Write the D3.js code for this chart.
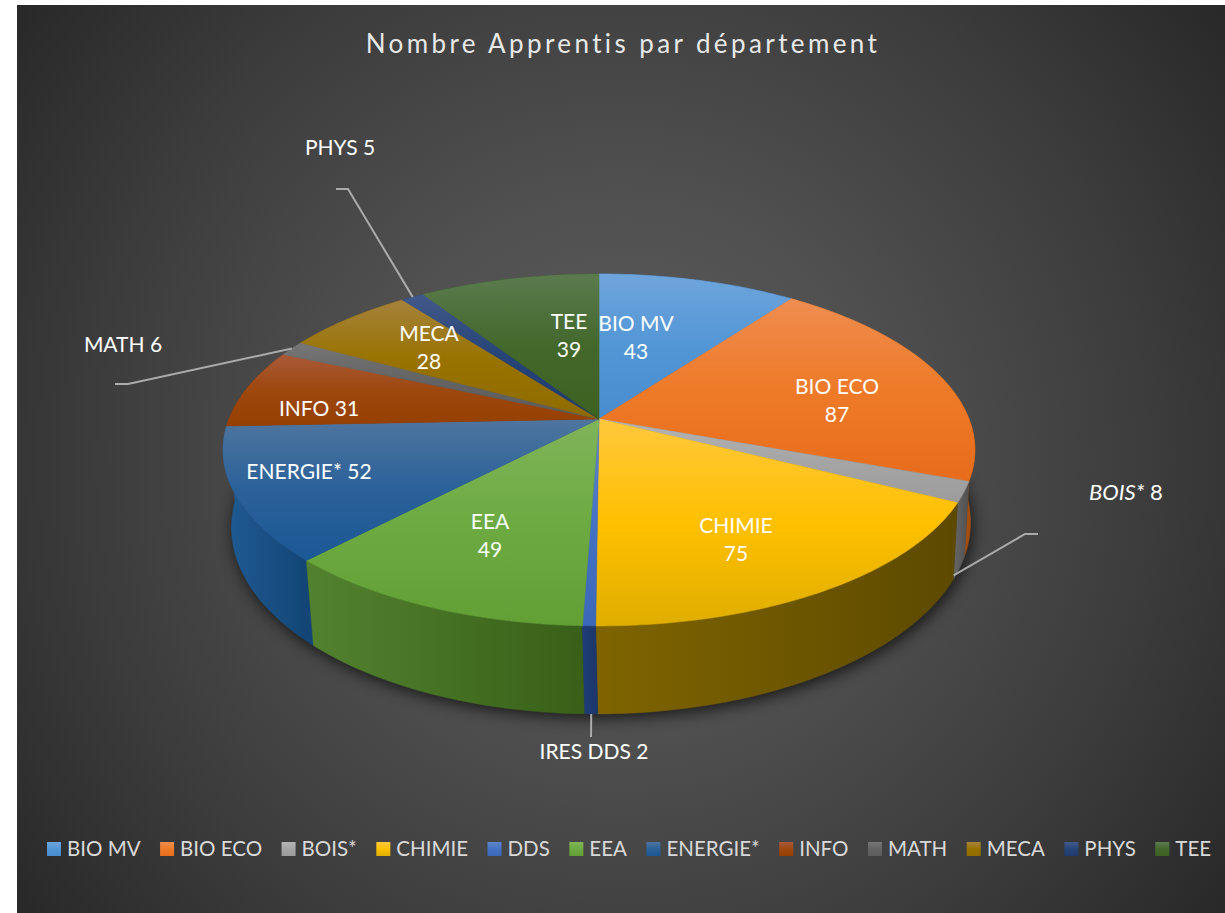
<!DOCTYPE html>
<html><head><meta charset="utf-8">
<script src="https://cdn.jsdelivr.net/npm/d3@7/dist/d3.min.js"></script>
<style>html,body{margin:0;background:#fff}svg{display:block}text{font-family:Lato,"Noto Sans",sans-serif}</style>
</head><body><svg id="c" width="1225" height="913"></svg>
<script>
const categories=["BIO MV","BIO ECO","BOIS*","CHIMIE","DDS","EEA","ENERGIE*","INFO","MATH","MECA","PHYS","TEE"];
const values=[43,87,8,75,2,49,52,31,6,28,5,39];
const labelLines=[["BIO MV","43"],["BIO ECO","87"],["BOIS* 8"],["CHIMIE","75"],["IRES DDS 2"],["EEA","49"],["ENERGIE* 52"],["INFO 31"],["MATH 6"],["MECA","28"],["PHYS 5"],["TEE","39"]];
const title="Nombre Apprentis par département";
// styles
const topColors=[["#6fa5dc","#5296d6","#4a8ccf"],["#ef8d50","#ee7a28","#e76c1c"],["#b4b4b4","#a5a5a5","#9c9c9c"],["#ffc83d","#ffc000","#dfae00"],["#5f85cb","#4472c4","#3c68b8"],["#80b45a","#6dab42","#62a036"],["#4f759f","#2a6199","#1c5896"],["#a9593a","#9e480e","#953f02"],["#777","#636363","#5d5d5d"],["#a5823c","#997300","#8f6b00"],["#42598a","#264478","#1f3a6e"],["#5b7b4f","#43682b","#3d6120"]];
const wallColors=[["#2f5f90","#254f7a"],["#a85a1c","#a34d0e"],["#666","#505050"],["#7f6400","#5d4a00"],["#1f3d78","#1b3669"],["#52822f","#386018"],["#1f5b94","#124474"],["#6e3208","#5a2806"],["#444","#3a3a3a"],["#6b5000","#574100"],["#1a2f55","#152747"],["#2f491e","#263b18"]];
// layout of the texts (centre of each line's first baseline row)
const labelPos=[[636,323],[837,386],[1126,492],[736,525],[594,751],[490,521],[309,471],[319,408],[123,344],[429,333],[340,147],[569,321]];
const leaderElbows={2:[[1025,534],[1038,534]],4:[[591,737]],8:[[128,384],[115,384]],10:[[348,189],[336,189]]};

const svg=d3.select("#c"),defs=svg.append("defs");
// backdrop
const bg=defs.append("radialGradient").attr("id","bg").attr("gradientUnits","userSpaceOnUse").attr("cx",621).attr("cy",459).attr("r",760);
[[0,"#5e5e5e"],[.35,"#505050"],[.7,"#3c3c3c"],[1,"#282828"]].forEach(s=>bg.append("stop").attr("offset",s[0]).attr("stop-color",s[1]));
svg.append("rect").attr("x",17).attr("y",5).attr("width",1208).attr("height",908).attr("fill","url(#bg)");
svg.append("text").attr("x",623).attr("y",53).attr("text-anchor","middle").attr("font-size",26).attr("letter-spacing",3.4).attr("fill","#e8e8e8").text(title);

// perspective projection of the pie's disc
const C={x:599,y:419},A=370,B=170.5,K=0.176;
const topP=(t,r=1)=>{const u=r*Math.sin(t),v=-r*Math.cos(t),w=1-K*v;return [C.x+A*u/w,C.y+B*v/w];};
const botP=(t,r=1)=>{const p=topP(t,r);return [0.983*p[0]+12.2,1.0745*p[1]-0.00655*p[0]+45.3];};
const samples=(a,b)=>d3.range(0,1.0001,1/Math.max(2,Math.ceil((b-a)*60))).map(f=>a+(b-a)*f);
const line=d3.line();
const arcs=d3.pie().sort(null).value(d=>d)(values);

// shadow
const f=defs.append("filter").attr("id","sh").attr("x","-20%").attr("y","-20%").attr("width","140%").attr("height","140%");
f.append("feGaussianBlur").attr("stdDeviation",8);
svg.append("path").attr("d",line(samples(0,2*Math.PI).map(t=>{const p=botP(t);return [p[0]+2,p[1]+4];}))+"Z").attr("fill","#000").attr("opacity",.7).attr("filter","url(#sh)");

arcs.forEach((a,i)=>{
 const g=defs.append("linearGradient").attr("id","t"+i).attr("x1",0).attr("y1",0).attr("x2",0).attr("y2",1);
 topColors[i].forEach((c,j)=>g.append("stop").attr("offset",[0,.5,1][j]).attr("stop-color",c));
 const w=defs.append("linearGradient").attr("id","w"+i).attr("x1",0).attr("y1",0).attr("x2",1).attr("y2",0);
 wallColors[i].forEach((c,j)=>w.append("stop").attr("offset",j).attr("stop-color",c));
});
// walls, back to front
const mid=a=>(a.startAngle+a.endAngle)/2;
const order=arcs.map((a,i)=>i).sort((p,q)=>Math.abs(mid(arcs[q])-Math.PI)-Math.abs(mid(arcs[p])-Math.PI));
svg.append("g").selectAll("path").data(order).join("path")
 .attr("d",i=>{const s=samples(arcs[i].startAngle,arcs[i].endAngle);return line(s.map(t=>topP(t)).concat(s.slice().reverse().map(t=>botP(t))))+"Z";})
 .attr("fill",i=>`url(#w${i})`).attr("stroke",i=>`url(#w${i})`).attr("stroke-width",.5);
// top
svg.append("g").selectAll("path").data(arcs).join("path")
 .attr("d",a=>line([[C.x,C.y]].concat(samples(a.startAngle,a.endAngle).map(t=>topP(t))))+"Z")
 .attr("fill",(a,i)=>`url(#t${i})`).attr("stroke",(a,i)=>`url(#t${i})`).attr("stroke-width",.6);

// leaders
const anchor=i=>{const t=mid(arcs[i]);
 if(i===2){const e=arcs[i].endAngle,p=topP(e),q=botP(e);return [p[0]+(q[0]-p[0])*.95,p[1]+(q[1]-p[1])*.95];}
 if(i===4)return botP(t);
 return topP(t);};
svg.append("g").selectAll("path").data(Object.keys(leaderElbows).map(Number)).join("path")
 .attr("d",i=>line([anchor(i)].concat(leaderElbows[i]))).attr("fill","none").attr("stroke","#ababab").attr("stroke-width",2);

// labels
labelLines.forEach((ls,i)=>{
 ls.forEach((s,j)=>{
  const t=svg.append("text").attr("x",labelPos[i][0]).attr("y",labelPos[i][1]+j*28.5+7.5).attr("text-anchor","middle").attr("font-size",i===2?22:21).attr("fill","#fff");
  if(i===2){t.append("tspan").attr("font-style","italic").text("BOIS*");t.append("tspan").text(" 8");}
  else t.text(s);
 });
});
// legend
const leg=svg.append("g");let lx=47;
categories.forEach((c,i)=>{
 const g=leg.append("g");
 g.append("rect").attr("x",lx).attr("y",842).attr("width",14).attr("height",14).attr("fill",`url(#t${i})`);
 const t=g.append("text").attr("x",lx+20).attr("y",856).attr("font-size",20.5).attr("fill","#d9d9d9").text(c);
 lx+=20+t.node().getComputedTextLength()+19.5;
});
</script></body></html>
